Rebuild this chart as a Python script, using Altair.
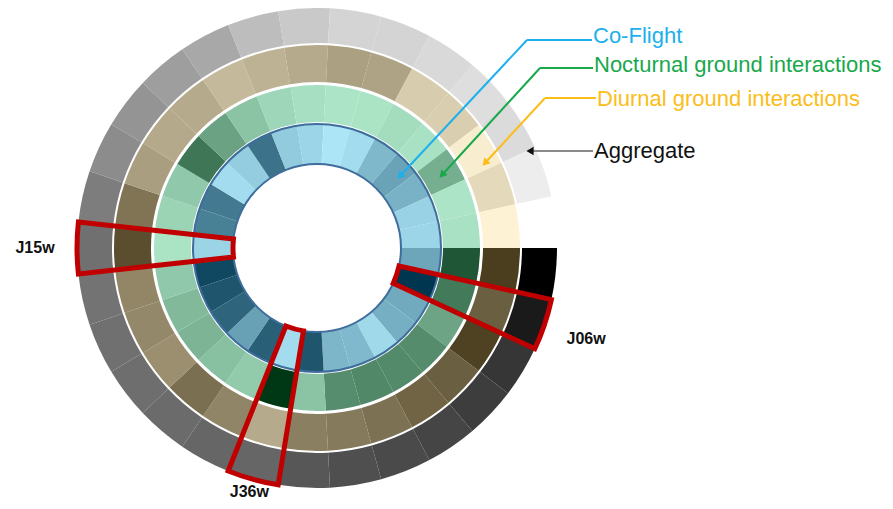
import math
import altair as alt
import pandas as pd

# ---------------- data ----------------
segments = list(range(29))
ring_names = ["Aggregate", "Diurnal ground interactions", "Nocturnal ground interactions", "Co-Flight"]

aggregate = [1.00, 0.90, 0.79, 0.76, 0.73, 0.71, 0.69, 0.66, 0.60, 0.60,
             0.58, 0.57, 0.56, 0.55, 0.56, 0.51, 0.45, 0.42, 0.38, 0.34,
             0.26, 0.21, 0.17, 0.17, 0.15, 0.13, 0.14, 0.07, 0.00]
diurnal = [1.00, 0.82, 0.98, 0.82, 0.79, 0.72, 0.67, 0.64, 0.40, 0.61,
           0.73, 0.55, 0.59, 0.60, 0.91, 0.70, 0.47, 0.41, 0.40, 0.32,
           0.36, 0.40, 0.46, 0.44, 0.21, 0.20, 0.03, 0.14, 0.00]
nocturnal = [0.82, 0.62, 0.38, 0.52, 0.53, 0.54, 0.51, 0.20, 1.00, 0.16,
             0.22, 0.29, 0.26, 0.17, 0.02, 0.11, 0.17, 0.64, 0.39, 0.20,
             0.09, 0.04, 0.01, 0.02, 0.06, 0.03, 0.32, 0.01, 0.03]
coflight = [0.36, 1.00, 0.34, 0.31, 0.07, 0.25, 0.27, 0.82, 0.05, 0.76,
            0.39, 0.73, 0.82, 0.90, 0.10, 0.58, 0.61, 0.05, 0.14, 0.65,
            0.15, 0.09, 0.00, 0.05, 0.26, 0.38, 0.29, 0.11, 0.09]

highlight_labels = ["J06w", "J36w", "J15w"]
highlight_segments = [1, 8, 14]

# ---------------- tables ----------------
rows = []
for name, vals in zip(ring_names, [aggregate, diurnal, nocturnal, coflight]):
    for k, v in zip(segments, vals):
        rows.append({"ring": name, "k": k, "k1": k + 1, "v": v})
df = pd.DataFrame(rows)
hl_df = pd.DataFrame({"label": highlight_labels, "k": highlight_segments})
ann_df = pd.DataFrame({"ring": ring_names})

# ---------------- styling ----------------
N = len(segments)
theta_scale = alt.Scale(domain=[0, N], range=[math.pi / 2, math.pi / 2 + 2 * math.pi])
CX, CY = 309, 240
FONT = "Liberation Sans"
R_IN, R_OUT = 84, 240

ring_styles = {
    "Aggregate": (205, 240, "#ffffff", "#000000"),
    "Diurnal ground interactions": (166, 203, "#fdf3d4", "#4a3e1f"),
    "Nocturnal ground interactions": (126, 163, "#aee6c9", "#003816"),
    "Co-Flight": (84, 124, "#abe5f6", "#003650"),
}

layers = []
for name in ring_names:
    r0, r1, lo, hi = ring_styles[name]
    layers.append(
        alt.Chart(df)
        .transform_filter(alt.datum.ring == name)
        .mark_arc(radius=r1, radius2=r0)
        .encode(
            theta=alt.Theta("k:Q", scale=theta_scale, stack=False),
            theta2="k1:Q",
            color=alt.Color("v:Q", scale=alt.Scale(domain=[0, 1], range=[lo, hi], interpolate="rgb"), legend=None),
            x=alt.value(CX),
            y=alt.value(CY),
        )
    )

# outline of the inner (Co-Flight) ring
layers.append(
    alt.Chart(df)
    .transform_filter(alt.datum.ring == "Co-Flight")
    .transform_aggregate(lo="min(k)", hi="max(k1)")
    .mark_arc(radius=124, radius2=84, fillOpacity=0, stroke="#3f6d9c", strokeWidth=2)
    .encode(theta=alt.Theta("lo:Q", scale=theta_scale, stack=False), theta2="hi:Q",
            x=alt.value(CX), y=alt.value(CY))
)

# red highlight boxes
layers.append(
    alt.Chart(hl_df)
    .transform_calculate(k1="datum.k + 1")
    .mark_arc(radius=R_OUT, radius2=R_IN, fillOpacity=0, stroke="#c00000", strokeWidth=5, strokeJoin="miter")
    .encode(theta=alt.Theta("k:Q", scale=theta_scale, stack=False), theta2="k1:Q",
            x=alt.value(CX), y=alt.value(CY))
)

# highlight labels
label_radius = {"J06w": 284, "J36w": 253, "J15w": 282}
for lab in highlight_labels:
    layers.append(
        alt.Chart(hl_df)
        .transform_filter(alt.datum.label == lab)
        .transform_calculate(mid="datum.k + 0.5")
        .mark_text(radius=label_radius[lab], fontSize=16, fontWeight="bold", font=FONT, color="#111111")
        .encode(theta=alt.Theta("mid:Q", scale=theta_scale, stack=False), text="label:N",
                x=alt.value(CX), y=alt.value(CY))
    )

# annotations (callouts)
ann_style = {
    "Co-Flight": dict(color="#1cb0ec", tx=585, ty=35, bend=(519, 32), tip=(392, 168), ang=223, horiz_end=584),
    "Nocturnal ground interactions": dict(color="#17a84c", tx=586, ty=64, bend=(532, 60), tip=(434, 167), ang=222, horiz_end=585),
    "Diurnal ground interactions": dict(color="#fbbd19", tx=589, ty=98, bend=(537, 90), tip=(477, 155), ang=223, horiz_end=588),
    "Aggregate": dict(color="#111111", tx=586, ty=150, bend=None, tip=(522, 143), ang=270, horiz_end=585),
}

for name in ring_names:
    s = ann_style[name]
    one = alt.Chart(ann_df).transform_filter(alt.datum.ring == name)
    layers.append(
        one.mark_text(align="left", baseline="alphabetic", fontSize=22, font=FONT, color=s["color"])
        .encode(text="ring:N", x=alt.value(s["tx"]), y=alt.value(s["ty"]))
    )
    if s["bend"] is not None:
        bx, by = s["bend"]
        tx, ty = s["tip"]
        layers.append(
            one.mark_rule(color=s["color"], strokeWidth=2)
            .encode(x=alt.value(bx), x2=alt.value(s["horiz_end"]), y=alt.value(by), y2=alt.value(by))
        )
        layers.append(
            one.mark_rule(color=s["color"], strokeWidth=2)
            .encode(x=alt.value(bx), x2=alt.value(tx), y=alt.value(by), y2=alt.value(ty))
        )
    else:
        tx, ty = s["tip"]
        layers.append(
            one.mark_rule(color="#8a8a8a", strokeWidth=2)
            .encode(x=alt.value(tx), x2=alt.value(s["horiz_end"]), y=alt.value(ty), y2=alt.value(ty))
        )
    layers.append(
        one.mark_point(shape="triangle-up", filled=True, size=70, angle=s["ang"],
                       color=s["color"], opacity=1)
        .encode(x=alt.value(s["tip"][0]), y=alt.value(s["tip"][1]))
    )

chart = (
    alt.layer(*layers)
    .resolve_scale(color="independent")
    .properties(width=877, height=493, padding=0, autosize="none")
    .configure_view(stroke=None)
)

chart.save("out.html", embed_options={"renderer": "svg", "actions": False})
